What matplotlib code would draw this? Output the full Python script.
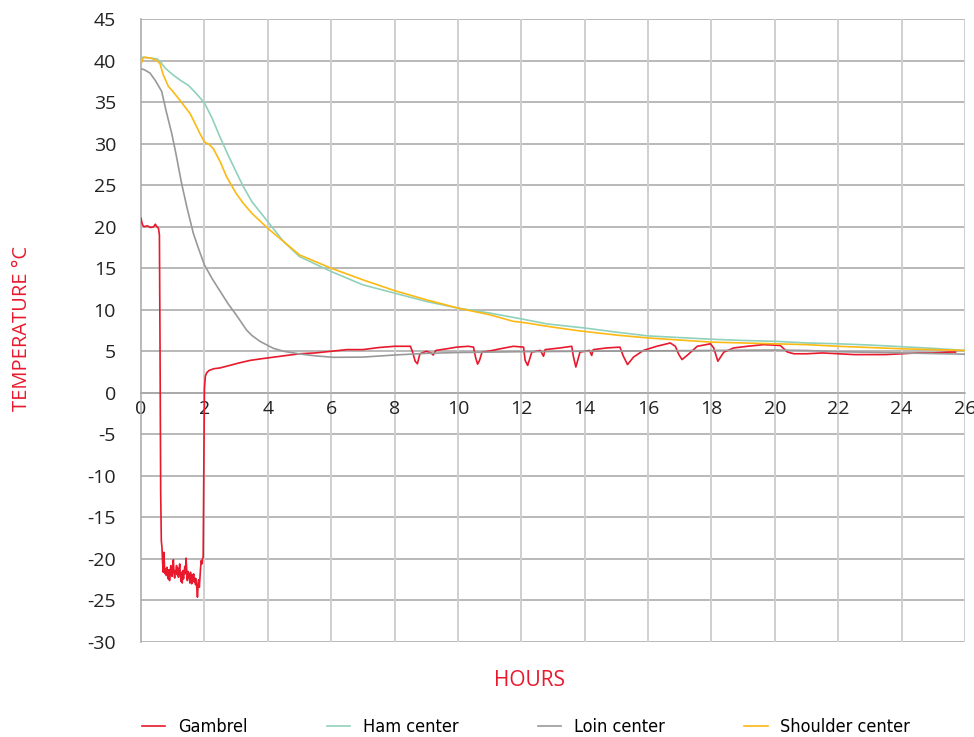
import matplotlib
matplotlib.use("Agg")
import matplotlib.pyplot as plt
import numpy as np

#---------------------------------------------------------------------------------------------------
# Data (hours, deg C)

gambrel_t = [0, 0.02, 0.05, 0.1, 0.2, 0.3, 0.4, 0.45, 0.5, 0.55, 0.58, 0.6, 0.62, 0.64, 0.66,
             0.68, 0.7, 0.72, 0.74, 0.76, 0.78, 0.8, 0.82, 0.84, 0.86, 0.88, 0.9, 0.92, 0.94,
             0.96, 0.98, 1.0, 1.02, 1.04, 1.06, 1.08, 1.1, 1.12, 1.14, 1.16, 1.18, 1.2, 1.22,
             1.24, 1.26, 1.28, 1.3, 1.32, 1.34, 1.36, 1.38, 1.4, 1.42, 1.44, 1.46, 1.48, 1.5,
             1.52, 1.54, 1.56, 1.58, 1.6, 1.62, 1.64, 1.66, 1.68, 1.7, 1.72, 1.74, 1.76, 1.78,
             1.8, 1.82, 1.84, 1.86, 1.88, 1.9, 1.92, 1.94, 1.96,
             1.98, 2.0, 2.03, 2.07, 2.15, 2.3, 2.5, 2.8, 3.1, 3.44, 3.8, 4.2, 4.6, 5.0, 5.5, 6.0,
             6.5, 7.0, 7.5, 8.0, 8.5, 8.57, 8.65, 8.72, 8.8, 9.0, 9.15, 9.22, 9.3, 9.65, 9.96,
             10.33, 10.49, 10.56, 10.62, 10.68, 10.76, 11.02, 11.33, 11.75, 12.07, 12.12, 12.2,
             12.33, 12.6, 12.7, 12.75, 13.22, 13.59, 13.64, 13.72, 13.85, 14.15, 14.22, 14.27,
             14.69, 15.11, 15.22, 15.35, 15.54, 15.85, 16.27, 16.7, 16.86, 16.97, 17.07, 17.23,
             17.55, 17.97, 18.07, 18.2, 18.39, 18.7, 19.13, 19.65, 20.17, 20.4, 20.6, 21.0, 21.5,
             22.0, 22.5, 23.0, 23.5, 24.0, 24.5, 25.0, 25.5, 25.7]
gambrel_v = [21.0, 20.6, 20.2, 20.0, 20.1, 19.9, 20.0, 20.3, 20.0, 19.8, 19.0, 5.0, -12.0, -17.8,
             -18.6, -20.4, -21.6, -19.2, -20.9, -21.8, -21.2, -22.0, -21.0, -21.9, -22.4,
             -21.3, -22.6, -21.5, -20.8, -21.9, -22.1, -21.0, -20.1, -21.6, -22.3, -21.4,
             -21.7, -20.8, -21.9, -21.1, -22.2, -21.3, -20.6, -21.8, -22.7, -21.6, -22.9,
             -21.4, -22.4, -21.7, -20.9, -21.8, -19.9, -21.2, -22.6, -21.5, -22.3, -21.8,
             -22.9, -21.6, -22.2, -23.0, -21.9, -22.5, -21.8, -22.8, -22.3, -23.1, -22.4,
             -23.6, -24.6, -23.2, -22.5, -23.4, -22.1, -21.0, -20.2, -20.6, -20.0, -19.8,
             -10.0, 0.5, 2.0, 2.4, 2.7, 2.9,
             3.0, 3.3, 3.6, 3.9, 4.1, 4.3, 4.5, 4.7, 4.8, 5.0, 5.2, 5.2, 5.45, 5.6, 5.6, 4.9,
             3.8, 3.5, 4.7, 5.0, 4.8, 4.55, 5.1, 5.3, 5.5, 5.6, 5.5, 4.2, 3.45, 3.9, 4.9, 5.05,
             5.3, 5.6, 5.5, 3.9, 3.3, 4.9, 5.1, 4.4, 5.2, 5.4, 5.6, 4.4, 3.1, 4.9, 5.1, 4.5,
             5.2, 5.4, 5.5, 4.4, 3.4, 4.3, 5.1, 5.6, 6.0, 5.6, 4.6, 4.0, 4.5, 5.6, 5.9, 5.4,
             3.8, 4.9, 5.4, 5.6, 5.8, 5.7, 4.9, 4.7, 4.7, 4.8, 4.7, 4.6, 4.6, 4.6, 4.7, 4.8,
             4.8, 4.9, 4.9]

ham_t = [0, 0.05, 0.3, 0.5, 0.6, 0.76, 1.0, 1.25, 1.5, 1.75, 2.0, 2.25, 2.49, 2.75, 3.0, 3.23,
         3.5, 4.0, 4.5, 5, 6, 7, 8, 9, 10, 11, 12, 12.8, 14, 15, 16, 17, 18, 19, 20, 21, 22, 23,
         24, 25, 26]
ham_v = [40.0, 40.4, 40.3, 40.2, 39.9, 39.1, 38.3, 37.6, 37.0, 36.0, 34.9, 33.0, 30.8, 28.6,
         26.6, 24.8, 23.0, 20.6, 18.2, 16.4, 14.6, 13.0, 12.0, 11.0, 10.2, 9.6, 8.9, 8.3, 7.8,
         7.3, 6.85, 6.65, 6.45, 6.3, 6.2, 6.0, 5.9, 5.75, 5.55, 5.35, 5.1]

loin_t = [0, 0.1, 0.28, 0.45, 0.65, 0.8, 0.97, 1.1, 1.28, 1.45, 1.65, 1.81, 2.0, 2.25, 2.5,
          2.75, 3.0, 3.33, 3.5, 3.75, 4.0, 4.18, 4.5, 5.02, 5.5, 6.07, 7, 8, 9, 10, 12, 14, 16,
          18, 20, 21, 22, 24, 26]
loin_v = [39.0, 38.9, 38.5, 37.6, 36.3, 33.8, 31.2, 28.8, 25.2, 22.3, 19.2, 17.4, 15.4, 13.7,
          12.2, 10.7, 9.4, 7.55, 6.9, 6.2, 5.7, 5.35, 5.0, 4.67, 4.45, 4.27, 4.3, 4.55, 4.75,
          4.85, 4.95, 5.0, 5.05, 5.1, 5.15, 5.1, 4.95, 4.8, 4.65]

shoulder_t = [0, 0.05, 0.1, 0.3, 0.5, 0.6, 0.7, 0.86, 1.0, 1.23, 1.55, 1.86, 2.0, 2.15, 2.28,
              2.5, 2.7, 3.0, 3.23, 3.5, 4.0, 4.5, 5, 6, 7, 8, 9, 10, 11, 11.75, 12, 13, 13.85,
              15, 16, 17, 18, 19, 20, 21, 22, 23, 24, 25, 26]
shoulder_v = [39.5, 40.2, 40.4, 40.3, 40.0, 39.6, 38.3, 36.9, 36.3, 35.2, 33.6, 31.2, 30.2,
              29.9, 29.4, 27.8, 26.0, 24.0, 22.8, 21.6, 19.8, 18.2, 16.6, 15.0, 13.6, 12.3,
              11.2, 10.2, 9.4, 8.6, 8.5, 7.9, 7.45, 6.95, 6.6, 6.35, 6.1, 6.0, 5.9, 5.8, 5.6,
              5.45, 5.3, 5.2, 5.1]

names = ["Gambrel", "Ham center", "Loin center", "Shoulder center"]
colors = ["#e8192c", "#8fd1bb", "#999999", "#fdb913"]

#---------------------------------------------------------------------------------------------------
plt.rcParams["axes.unicode_minus"] = False

fig = plt.figure(figsize=(9.74, 7.37), dpi=100)
ax = fig.add_axes([0.1448, 0.1289, 0.846, 0.8453])

series = [(gambrel_t, gambrel_v), (ham_t, ham_v), (loin_t, loin_v), (shoulder_t, shoulder_v)]
for (t, v), name, c in zip(series, names, colors):
    ax.plot(t, v, color=c, lw=1.2, label=name, zorder=3)

ax.set_xlim(0, 26)
ax.set_ylim(-30, 45)
ax.set_xticks(np.arange(0, 27, 2))
ax.set_yticks(np.arange(-30, 46, 5))

# grid: horizontal darker, vertical lighter
for y in np.arange(-30, 46, 5):
    ax.axhline(y, color="#a6a6a6", lw=1.1, zorder=1)
for x in np.arange(2, 27, 2):
    ax.axvline(x, color="#cfcfcf", lw=1.4, zorder=1)

for s in ["top", "right"]:
    ax.spines[s].set_visible(False)
ax.spines["left"].set_color("#a6a6a6")
ax.spines["left"].set_linewidth(1.1)
ax.spines["bottom"].set_position(("data", 0))
ax.spines["bottom"].set_color("#a6a6a6")
ax.spines["bottom"].set_linewidth(1.1)

ax.tick_params(axis="both", length=0, labelsize=14, colors="#222222")
ax.tick_params(axis="y", pad=18)
ax.tick_params(axis="x", pad=5)
for lab in ax.get_xticklabels() + ax.get_yticklabels():
    lab.set_family("Open Sans")

fig.text(0.023, 0.555, "TEMPERATURE °C", rotation=90, color="#e8192c", fontsize=14.5,
         family="Open Sans", ha="center", va="center")
fig.text(0.544, 0.076, "HOURS", color="#e8192c", fontsize=15, family="Open Sans",
         ha="center", va="center")

fig.legend(loc="center", bbox_to_anchor=(0.540, 0.013), ncol=4, frameon=False,
           handlelength=1.3, handletextpad=0.7, columnspacing=4.4,
           prop={"family": "DejaVu Sans", "stretch": "condensed", "size": 13})

fig.savefig("out.png", dpi=100)
